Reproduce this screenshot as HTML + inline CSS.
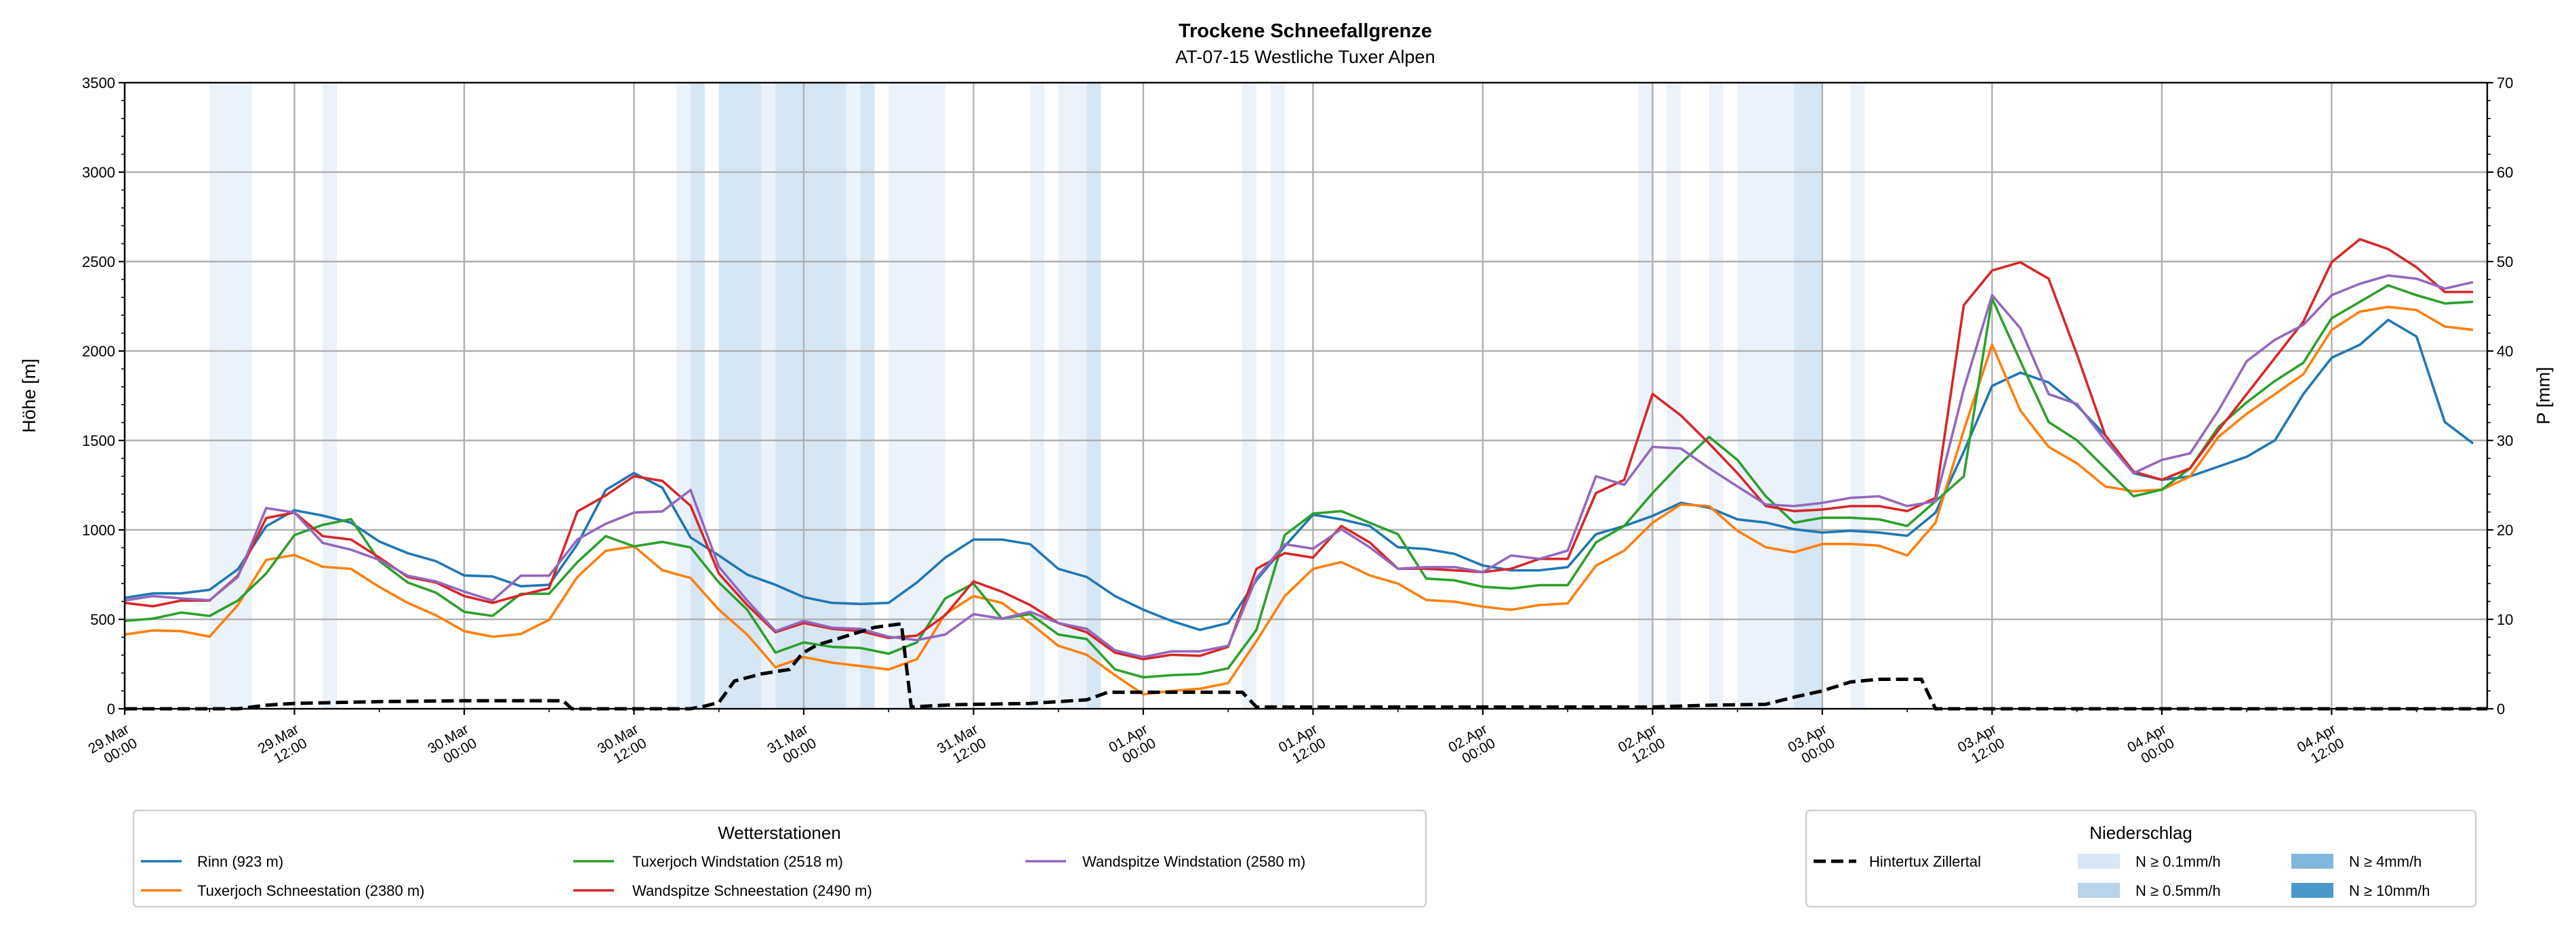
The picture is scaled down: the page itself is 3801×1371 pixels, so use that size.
<!DOCTYPE html>
<html><head><meta charset="utf-8"><style>
html,body{margin:0;padding:0;background:#fff;}
svg{display:block;font-family:"Liberation Sans","DejaVu Sans",sans-serif;}
</style></head><body>
<svg id="chart" width="3801" height="1371" viewBox="0 0 3801 1371" xmlns="http://www.w3.org/2000/svg">
<rect width="3801" height="1371" fill="#fff"/>
<text x="1926" y="55" text-anchor="middle" font-size="29" font-weight="bold">Trockene Schneefallgrenze</text>
<text x="1926" y="93" text-anchor="middle" font-size="27">AT-07-15 Westliche Tuxer Alpen</text>
<g id="bands"></g><g id="grid"></g><g id="series"></g><g id="axes"></g>
<text transform="translate(52,584) rotate(-90)" text-anchor="middle" font-size="27">Höhe [m]</text>
<text transform="translate(3762,584) rotate(-90)" text-anchor="middle" font-size="27">P [mm]</text>
<g>
<rect x="197" y="1196" width="1907" height="142" rx="6" fill="#fff" stroke="#d0d0d0" stroke-width="2.5"/>
<text x="1150" y="1238" text-anchor="middle" font-size="26">Wetterstationen</text>
<g><line x1="208" y1="1271" x2="268" y2="1271" stroke="#1f77b4" stroke-width="3.6"/><text x="291" y="1279" font-size="22">Rinn (923 m)</text></g>
<g><line x1="208" y1="1314" x2="268" y2="1314" stroke="#ff7f0e" stroke-width="3.6"/><text x="291" y="1322" font-size="22">Tuxerjoch Schneestation (2380 m)</text></g>
<g><line x1="846" y1="1271" x2="906" y2="1271" stroke="#2ca02c" stroke-width="3.6"/><text x="933" y="1279" font-size="22">Tuxerjoch Windstation (2518 m)</text></g>
<g><line x1="846" y1="1314" x2="906" y2="1314" stroke="#d62728" stroke-width="3.6"/><text x="933" y="1322" font-size="22">Wandspitze Schneestation (2490 m)</text></g>
<g><line x1="1513" y1="1271" x2="1573" y2="1271" stroke="#9467bd" stroke-width="3.6"/><text x="1597" y="1279" font-size="22">Wandspitze Windstation (2580 m)</text></g>
</g>
<g>
<rect x="2665" y="1196" width="988" height="142" rx="6" fill="#fff" stroke="#d0d0d0" stroke-width="2.5"/>
<text x="3159" y="1238" text-anchor="middle" font-size="26">Niederschlag</text>
<g><line x1="2676" y1="1271" x2="2739" y2="1271" stroke="#000" stroke-width="5" stroke-dasharray="18,8"/><text x="2758" y="1279" font-size="22">Hintertux Zillertal</text></g>
<g><rect x="3066" y="1260" width="62" height="22" fill="#d9e7f5"/><text x="3151" y="1279" font-size="22">N ≥ 0.1mm/h</text></g>
<g><rect x="3066" y="1303" width="62" height="22" fill="#b9d4ea"/><text x="3151" y="1322" font-size="22">N ≥ 0.5mm/h</text></g>
<g><rect x="3381" y="1260" width="62" height="22" fill="#7fb8dc"/><text x="3466" y="1279" font-size="22">N ≥ 4mm/h</text></g>
<g><rect x="3381" y="1303" width="62" height="22" fill="#4a98c9"/><text x="3466" y="1322" font-size="22">N ≥ 10mm/h</text></g>
</g>
</svg>
<script>
const hours = [0,2,4,6,8,10,12,14,16,18,20,22,24,26,28,30,32,34,36,38,40,42,44,46,48,50,52,54,56,58,60,62,64,66,68,70,72,74,76,78,80,82,84,86,88,90,92,94,96,98,100,102,104,106,108,110,112,114,116,118,120,122,124,126,128,130,132,134,136,138,140,142,144,146,148,150,152,154,156,158,160,162,164,166];
const rinn = [620,645,645,665,780,1020,1110,1080,1040,935,870,825,745,740,685,693,920,1223,1318,1236,958,857,750,693,624,592,586,592,706,845,946,946,920,782,737,630,554,491,441,479,718,908,1085,1059,1022,903,893,866,801,774,774,792,976,1022,1078,1151,1124,1059,1041,1004,985,995,985,967,1096,1437,1805,1879,1824,1695,1529,1317,1280,1299,1354,1409,1501,1759,1962,2035,2174,2081,1603,1483];
const tuxSchnee = [415,438,434,403,580,832,860,794,782,681,592,523,434,403,418,497,737,883,908,775,731,554,415,232,289,258,239,220,277,529,630,592,479,352,302,188,81,100,112,144,378,630,782,820,746,700,608,599,571,553,580,589,800,884,1040,1142,1133,995,903,875,921,921,912,857,1040,1557,2035,1667,1464,1372,1243,1216,1225,1299,1520,1649,1759,1870,2118,2220,2247,2229,2137,2118];
const tuxWind = [491,504,538,519,605,756,971,1028,1060,826,706,649,542,519,643,643,820,965,908,933,902,706,554,314,371,346,340,308,371,617,700,504,529,415,390,220,176,188,194,226,441,971,1091,1105,1040,976,728,718,682,672,691,691,930,1022,1206,1372,1520,1391,1188,1040,1068,1068,1059,1022,1160,1299,2293,1943,1603,1501,1345,1188,1225,1345,1575,1713,1833,1934,2183,2275,2367,2312,2266,2275];
const wandSchnee = [592,573,605,605,744,1066,1097,965,946,845,737,706,630,592,636,674,1103,1192,1300,1274,1135,756,580,428,479,447,434,396,409,523,712,655,580,479,428,314,277,302,296,346,782,870,845,1022,930,783,783,774,764,783,838,838,1206,1280,1760,1640,1483,1317,1133,1105,1114,1133,1133,1105,1179,2256,2450,2496,2404,1980,1529,1326,1280,1345,1557,1759,1962,2164,2496,2625,2570,2468,2330,2330];
const wandWind = [605,630,617,607,737,1122,1097,927,889,832,744,712,655,605,744,744,946,1034,1097,1103,1223,794,605,434,491,453,447,403,384,415,529,504,542,479,447,327,289,321,321,352,731,920,895,1004,903,783,792,792,764,857,838,884,1300,1252,1464,1455,1345,1243,1142,1133,1151,1179,1188,1133,1160,1787,2312,2127,1759,1704,1501,1317,1391,1428,1667,1943,2063,2146,2312,2376,2422,2404,2349,2385];
const precipT = [0,8,10,12,18,24,31,31.6,40,41,42,43.1,45,47,47.9,48.9,53,54.9,55.6,58.5,64,68,69.5,79,80,108,112,116,118,120,122,124,127,128,167];
const precipMM = [0,0,0.4,0.6,0.8,0.9,0.9,0,0,0.3,0.7,3.1,3.9,4.4,6.2,7.1,9.1,9.5,0.2,0.45,0.6,1.0,1.85,1.85,0.2,0.2,0.4,0.5,1.3,2.0,3.0,3.3,3.3,0,0];
const bandStart = [6,14,39,40,42,45,46,51,52,54,64,66,68,79,81,107,109,112,114,118,122];
const bandEnd   = [9,15,40,41,45,46,51,52,53,58,65,68,69,80,82,108,110,113,118,120,123];
const bandLevel = [1,1,1,2,2,1,2,1,2,1,1,1,2,1,1,1,1,1,1,2,1];
const xTickLabels = ["29.Mar","29.Mar","30.Mar","30.Mar","31.Mar","31.Mar","01.Apr","01.Apr","02.Apr","02.Apr","03.Apr","03.Apr","04.Apr","04.Apr"];
const xTickTimes = ["00:00","12:00","00:00","12:00","00:00","12:00","00:00","12:00","00:00","12:00","00:00","12:00","00:00","12:00"];
const yTicks = [0,500,1000,1500,2000,2500,3000,3500];
const y2Ticks = [0,10,20,30,40,50,60,70];

const L=184,R=3670,T=122,B=1046,HMAX=167;
const NS="http://www.w3.org/2000/svg";
const X=h=>L+(R-L)*h/HMAX;
const Y=v=>B-(B-T)*v/3500;
const Y2=v=>B-(B-T)*v/70;
function mk(tag,attrs,parent){const e=document.createElementNS(NS,tag);for(const k in attrs)e.setAttribute(k,attrs[k]);parent.appendChild(e);return e;}
const gB=document.getElementById('bands'),gG=document.getElementById('grid'),gS=document.getElementById('series'),gA=document.getElementById('axes');
const bandCol=["#fff","#ebf2fa","#d6e6f3","#7fb8dc","#4a98c9"];
bandStart.forEach((s,i)=>{
  const r=mk('rect',{x:X(s),y:T,width:X(bandEnd[i])-X(s),height:B-T,fill:bandCol[bandLevel[i]]},gB);
  
  
});
xTickLabels.forEach((lab,i)=>{
  const x=X(i*12);
  const l=mk('line',{x1:x,y1:T,x2:x,y2:B,stroke:"#b0b0b0","stroke-width":2.4},gG);
  
  
  mk('line',{x1:x,y1:B,x2:x,y2:B+9,stroke:"#000","stroke-width":2.2},gA);
  if(i*12+6<HMAX) mk('line',{x1:X(i*12+6),y1:B,x2:X(i*12+6),y2:B+5,stroke:"#000","stroke-width":1.6},gA);
  const t=mk('text',{transform:`translate(${x+8},${B+34}) rotate(-30)`,"text-anchor":"end","font-size":"21"},gA);
  
  
  mk('tspan',{x:0,dy:0},t).textContent=lab;
  mk('tspan',{x:0,dy:24},t).textContent=xTickTimes[i];
});
yTicks.forEach(v=>{
  const y=Y(v);
  if(v>0&&v<3500){const l=mk('line',{x1:L,y1:y,x2:R,y2:y,stroke:"#b0b0b0","stroke-width":2.4},gG);
  
  }
  mk('line',{x1:L-9,y1:y,x2:L,y2:y,stroke:"#000","stroke-width":2.2},gA);
  const t=mk('text',{x:L-14,y:y+8,"text-anchor":"end","font-size":"22"},gA);
  
  
  t.textContent=v;
});
for(let v=100;v<3500;v+=100){if(v%500)mk('line',{x1:L-5,y1:Y(v),x2:L,y2:Y(v),stroke:"#000","stroke-width":1.6},gA);}
y2Ticks.forEach(v=>{
  const y=Y2(v);
  mk('line',{x1:R,y1:y,x2:R+9,y2:y,stroke:"#000","stroke-width":2.2},gA);
  const t=mk('text',{x:R+14,y:y+8,"font-size":"22"},gA);
  
  
  t.textContent=v;
});
for(let v=2;v<70;v+=2){if(v%10)mk('line',{x1:R,y1:Y2(v),x2:R+5,y2:Y2(v),stroke:"#000","stroke-width":1.6},gA);}
function drawLine(vals,color,name){
  const p=mk('polyline',{points:vals.map((v,i)=>X(hours[i])+","+Y(v)).join(" "),fill:"none",stroke:color,"stroke-width":3.6,"stroke-linejoin":"round"},gS);
  
  
}
drawLine(rinn,"#1f77b4","rinn-line");
drawLine(tuxSchnee,"#ff7f0e","tuxerjoch-schneestation-line");
drawLine(tuxWind,"#2ca02c","tuxerjoch-windstation-line");
drawLine(wandSchnee,"#d62728","wandspitze-schneestation-line");
drawLine(wandWind,"#9467bd","wandspitze-windstation-line");
const pp=mk('polyline',{points:precipT.map((t,i)=>X(t)+","+Y2(precipMM[i])).join(" "),fill:"none",stroke:"#000","stroke-width":5,"stroke-dasharray":"18,8"},gS);


const fr=mk('rect',{x:L,y:T,width:R-L,height:B-T,fill:"none",stroke:"#000","stroke-width":2.4},gA);


</script>
</body></html>
